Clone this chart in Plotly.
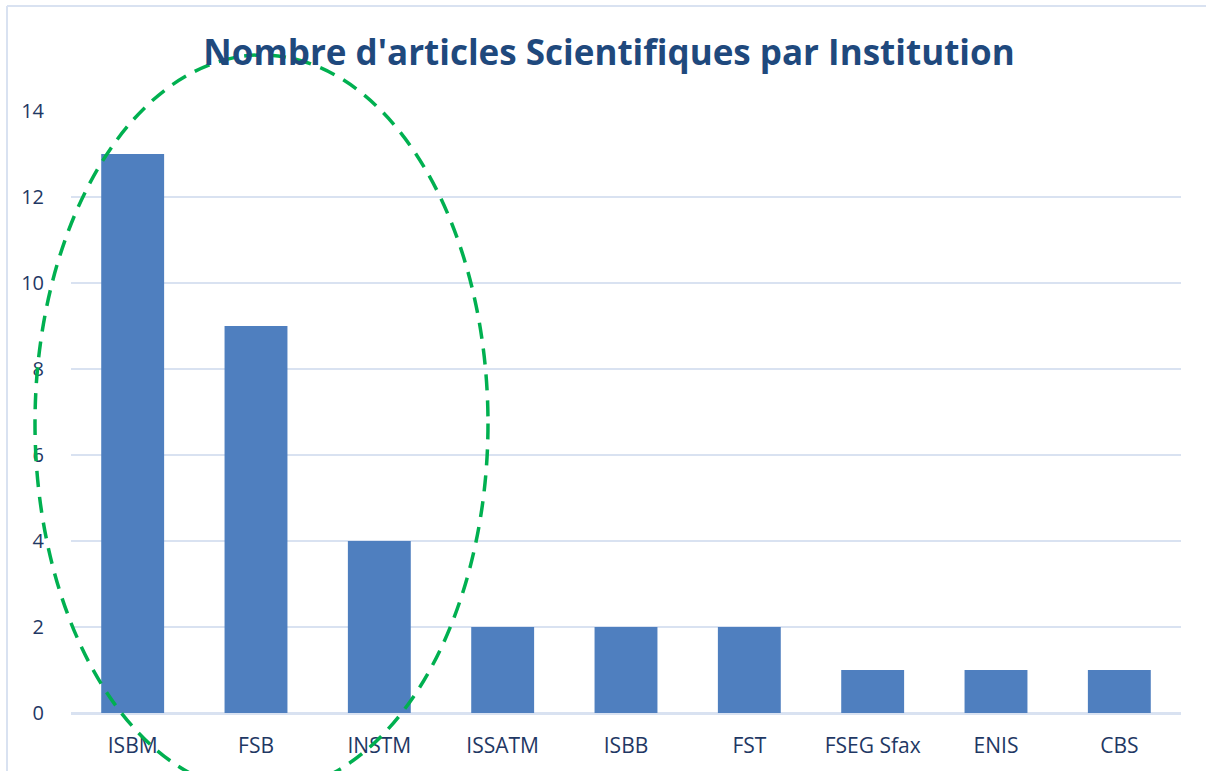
import plotly.graph_objects as go

institutions = ["ISBM", "FSB", "INSTM", "ISSATM", "ISBB", "FST", "FSEG Sfax", "ENIS", "CBS"]
articles = [13, 9, 4, 2, 2, 2, 1, 1, 1]
y_ticks = [0, 2, 4, 6, 8, 10, 12, 14]

W, H = 1206, 771
L, R, T, B = 71, 1181, 111, 713  # plot area in pixels


def px_x(x):
    return (x - L) / (R - L)


def px_y(y):
    return (B - y) / (B - T)


fig = go.Figure()
fig.add_trace(go.Bar(
    x=institutions, y=articles,
    marker=dict(color="#4f7fbf", line=dict(width=0)),
    width=0.51,
))

grid = "#d9e2f1"
fig.update_layout(
    width=W, height=H,
    margin=dict(l=L, r=W - R, t=T, b=H - B),
    paper_bgcolor="white", plot_bgcolor="white",
    showlegend=False,
    title=dict(
        text="<b>Nombre d'articles Scientifiques par Institution</b>",
        x=609 / W, xanchor="center", xref="container",
        y=1 - 53 / H, yanchor="middle",
        font=dict(family="Open Sans", size=35, color="#1f497d"),
    ),
    xaxis=dict(
        showgrid=False, showline=True, linecolor=grid, linewidth=2,
        ticks="outside", ticklen=13, tickcolor="rgba(0,0,0,0)",
        tickfont=dict(family="Open Sans", size=21, color="#1f3864"),
    ),
    yaxis=dict(
        range=[0, 14], tickvals=y_ticks,
        showgrid=True, gridcolor=grid, gridwidth=2,
        zeroline=True, zerolinecolor=grid, zerolinewidth=2,
        ticks="outside", ticklen=22, tickcolor="rgba(0,0,0,0)",
        tickfont=dict(family="Open Sans", size=20, color="#1f3864"),
    ),
    shapes=[
        dict(type="line", xref="paper", yref="paper",
             x0=px_x(7), x1=px_x(1206), y0=px_y(6), y1=px_y(6),
             line=dict(color=grid, width=2), layer="below"),
        dict(type="line", xref="paper", yref="paper",
             x0=px_x(7), x1=px_x(7), y0=px_y(6), y1=px_y(771),
             line=dict(color=grid, width=2), layer="below"),
        dict(type="circle", xref="paper", yref="paper",
             x0=px_x(35), x1=px_x(488), y0=px_y(55), y1=px_y(792),
             line=dict(color="#00b050", width=3.5, dash="16px,10px"),
             fillcolor="rgba(0,0,0,0)", layer="above"),
    ],
)

fig.write_html(
    "out.html",
    config={"displayModeBar": False},
    post_script="document.body.style.margin='0';document.body.style.overflow='hidden';",
)
